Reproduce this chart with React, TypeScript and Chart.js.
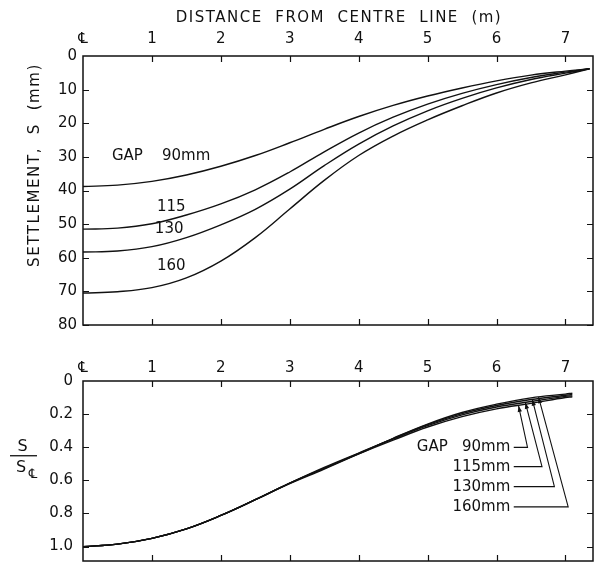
import React, { useEffect, useRef } from "react";
import { Chart, registerables } from "chart.js";

Chart.register(...registerables);

const FONT = "'DejaVu Sans', 'Liberation Sans', sans-serif";
const INK = "#111111";

// ---- Upper panel: settlement S (mm) against distance from centre line (m)
const distance = [0, 0.5, 1, 1.5, 2, 2.5, 3, 3.5, 4, 4.5, 5, 5.5, 6, 6.5, 7, 7.35];
const settlementGap90 = [38.8, 38.4, 37.3, 35.4, 32.8, 29.6, 25.8, 21.8, 18.0, 14.7, 11.9, 9.5, 7.4, 5.7, 4.5, 3.8];
const settlementGap115 = [51.5, 51.2, 49.9, 47.3, 44.0, 39.8, 34.5, 28.5, 22.9, 18.2, 14.3, 11.1, 8.5, 6.4, 4.8, 3.8];
const settlementGap130 = [58.3, 58.0, 56.7, 54.0, 50.2, 45.6, 39.6, 32.6, 26.2, 20.8, 16.3, 12.6, 9.5, 7.0, 5.1, 3.8];
const settlementGap160 = [70.5, 70.1, 68.9, 66.0, 61.0, 54.0, 45.5, 37.0, 29.6, 23.8, 19.0, 14.8, 11.0, 8.0, 5.6, 3.8];

// ---- Lower panel: S / S(centre line)
const distanceRatio = [0, 0.5, 1, 1.5, 2, 2.5, 3, 3.5, 4, 4.5, 5, 5.5, 6, 6.5, 7, 7.1];
const ratioGap90 = [1.0, 0.985, 0.95, 0.893, 0.812, 0.717, 0.617, 0.527, 0.44, 0.357, 0.278, 0.215, 0.168, 0.135, 0.1, 0.095];
const ratioGap115 = [1.0, 0.985, 0.95, 0.893, 0.812, 0.717, 0.617, 0.522, 0.435, 0.35, 0.27, 0.205, 0.157, 0.124, 0.093, 0.088];
const ratioGap130 = [1.0, 0.985, 0.95, 0.893, 0.812, 0.717, 0.617, 0.527, 0.437, 0.348, 0.264, 0.197, 0.148, 0.112, 0.086, 0.081];
const ratioGap160 = [1.0, 0.985, 0.95, 0.893, 0.812, 0.717, 0.62, 0.532, 0.44, 0.346, 0.26, 0.19, 0.14, 0.102, 0.079, 0.074];

const gapLabels = ["90 mm", "115 mm", "130 mm", "160 mm"];
const distanceTickLabels = ["\u2104", "1", "2", "3", "4", "5", "6", "7"];
const ratioTickLabels = ["0", "0.2", "0.4", "0.6", "0.8", "1.0"];

const xTitle = "DISTANCE  FROM  CENTRE  LINE  (m)";
const yTitleTop = "SETTLEMENT,  S  (mm)";

// annotation text anchored in data units
const topNotes = [
  { text: "GAP    90mm", x: 0.42, y: 29.7, align: "left" },
  { text: "115", x: 1.28, y: 44.8, align: "center" },
  { text: "130", x: 1.25, y: 51.5, align: "center" },
  { text: "160", x: 1.28, y: 62.5, align: "center" },
];
const ratioNotes = [
  { text: "GAP   90mm", textY: 0.401, cornerX: 6.45, tipX: 6.32, tipY: 0.15 },
  { text: "115mm", textY: 0.517, cornerX: 6.66, tipX: 6.42, tipY: 0.132 },
  { text: "130mm", textY: 0.638, cornerX: 6.84, tipX: 6.52, tipY: 0.113 },
  { text: "160mm", textY: 0.76, cornerX: 7.04, tipX: 6.61, tipY: 0.098 },
];
const ratioNoteTextRight = 6.2;
const ratioNoteLineStart = 6.25;

function makeDatasets(xs: number[], series: number[][]) {
  return series.map((ys, i) => ({
    label: gapLabels[i],
    data: xs.map((x, j) => ({ x, y: ys[j] })),
    borderColor: INK,
    borderWidth: 1.4,
    pointRadius: 0,
    fill: false,
    tension: 0.4,
  }));
}

function drawFrame(chart: any) {
  const { ctx, chartArea } = chart;
  const { left, right, top, bottom } = chartArea;
  const xs = chart.scales.x;
  const ys = chart.scales.y;
  ctx.save();
  ctx.strokeStyle = INK;
  ctx.lineWidth = 1.5;
  ctx.strokeRect(left, top, right - left, bottom - top);
  ctx.lineWidth = 1.2;
  const len = 6;
  ctx.beginPath();
  xs.ticks.forEach((t: any) => {
    if (t.value <= 0) return;
    const px = Math.round(xs.getPixelForValue(t.value)) + 0.5;
    ctx.moveTo(px, top);
    ctx.lineTo(px, top + len);
    ctx.moveTo(px, bottom);
    ctx.lineTo(px, bottom - len);
  });
  ys.ticks.forEach((t: any) => {
    if (t.value <= 0) return;
    const py = Math.round(ys.getPixelForValue(t.value)) + 0.5;
    ctx.moveTo(left, py);
    ctx.lineTo(left + len, py);
    ctx.moveTo(right, py);
    ctx.lineTo(right - len, py);
  });
  ctx.stroke();
  ctx.restore();
}

function spacedText(ctx: any, text: string, x: number, y: number, spacing: string) {
  ctx.letterSpacing = spacing;
  ctx.fillText(text, x, y);
  ctx.letterSpacing = "0px";
}

const topPlugin = {
  id: "topDecor",
  afterDraw(chart: any) {
    drawFrame(chart);
    const { ctx, chartArea } = chart;
    const xs = chart.scales.x;
    const ys = chart.scales.y;
    ctx.save();
    ctx.fillStyle = INK;
    ctx.font = `15px ${FONT}`;
    ctx.textBaseline = "middle";
    ctx.textAlign = "center";
    spacedText(ctx, xTitle, (chartArea.left + chartArea.right) / 2 + 1, 18.5, "1.5px");
    ctx.save();
    ctx.translate(35, 165);
    ctx.rotate(-Math.PI / 2);
    spacedText(ctx, yTitleTop, 0, 0, "1.6px");
    ctx.restore();
    ctx.font = `15px ${FONT}`;
    topNotes.forEach((n) => {
      ctx.textAlign = n.align;
      ctx.fillText(n.text, xs.getPixelForValue(n.x), ys.getPixelForValue(n.y));
    });
    ctx.restore();
  },
};

const bottomPlugin = {
  id: "bottomDecor",
  afterDraw(chart: any) {
    drawFrame(chart);
    const { ctx } = chart;
    const xs = chart.scales.x;
    const ys = chart.scales.y;
    ctx.save();
    ctx.fillStyle = INK;
    ctx.strokeStyle = INK;
    // fraction axis title S / S℄
    const cy = ys.getPixelForValue(0.4);
    ctx.font = `16px ${FONT}`;
    ctx.textBaseline = "middle";
    ctx.textAlign = "center";
    ctx.fillText("S", 22.5, cy);
    ctx.lineWidth = 1.3;
    ctx.beginPath();
    ctx.moveTo(10, cy + 8.5);
    ctx.lineTo(37, cy + 8.5);
    ctx.stroke();
    ctx.fillText("S", 21, cy + 20.5);
    ctx.font = `13px ${FONT}`;
    ctx.fillText("\u2104", 33, cy + 27);

    // labelled leaders with arrows
    ctx.font = `15px ${FONT}`;
    ctx.textAlign = "right";
    ctx.lineWidth = 1.1;
    const textRight = xs.getPixelForValue(ratioNoteTextRight);
    const lineStart = xs.getPixelForValue(ratioNoteLineStart);
    ratioNotes.forEach((n) => {
      const ty = ys.getPixelForValue(n.textY);
      ctx.fillText(n.text, textRight, ty);
      const cx = xs.getPixelForValue(n.cornerX);
      const tx = xs.getPixelForValue(n.tipX);
      const tyy = ys.getPixelForValue(n.tipY);
      ctx.beginPath();
      ctx.moveTo(lineStart, ty);
      ctx.lineTo(cx, ty);
      ctx.lineTo(tx, tyy);
      ctx.stroke();
      const ang = Math.atan2(tyy - ty, tx - cx);
      const L = 6;
      const W = 2.2;
      ctx.beginPath();
      ctx.moveTo(tx, tyy);
      ctx.lineTo(tx - L * Math.cos(ang) + W * Math.sin(ang), tyy - L * Math.sin(ang) - W * Math.cos(ang));
      ctx.lineTo(tx - L * Math.cos(ang) - W * Math.sin(ang), tyy - L * Math.sin(ang) + W * Math.cos(ang));
      ctx.closePath();
      ctx.fill();
    });
    ctx.restore();
  },
};

function topConfig(): any {
  return {
    type: "line",
    data: {
      datasets: makeDatasets(distance, [settlementGap90, settlementGap115, settlementGap130, settlementGap160]),
    },
    options: {
      animation: false,
      responsive: false,
      maintainAspectRatio: false,
      layout: { padding: { left: 0, right: 10, top: 0, bottom: 10 } },
      plugins: { legend: { display: false }, tooltip: { enabled: false } },
      scales: {
        x: {
          type: "linear",
          position: "top",
          min: 0,
          max: 7.4,
          grid: { display: false, drawTicks: false },
          border: { display: false },
          ticks: {
            stepSize: 1,
            includeBounds: false,
            autoSkip: false,
            maxRotation: 0,
            padding: 8,
            color: INK,
            font: { family: FONT, size: 15 },
            callback: (v: number) => distanceTickLabels[Math.round(v)] ?? "",
          },
          afterFit: (s: any) => {
            s.height = 56;
          },
        },
        y: {
          type: "linear",
          reverse: true,
          min: 0,
          max: 80,
          grid: { display: false, drawTicks: false },
          border: { display: false },
          ticks: {
            stepSize: 10,
            includeBounds: false,
            padding: 6,
            color: INK,
            font: { family: FONT, size: 15 },
          },
          afterFit: (s: any) => {
            s.width = 83;
          },
        },
      },
    },
    plugins: [topPlugin],
  };
}

function bottomConfig(): any {
  return {
    type: "line",
    data: {
      datasets: makeDatasets(distanceRatio, [ratioGap90, ratioGap115, ratioGap130, ratioGap160]),
    },
    options: {
      animation: false,
      responsive: false,
      maintainAspectRatio: false,
      layout: { padding: { left: 0, right: 10, top: 0, bottom: 12 } },
      plugins: { legend: { display: false }, tooltip: { enabled: false } },
      scales: {
        x: {
          type: "linear",
          position: "top",
          min: 0,
          max: 7.4,
          grid: { display: false, drawTicks: false },
          border: { display: false },
          ticks: {
            stepSize: 1,
            includeBounds: false,
            autoSkip: false,
            maxRotation: 0,
            padding: 4,
            color: INK,
            font: { family: FONT, size: 15 },
            callback: (v: number) => distanceTickLabels[Math.round(v)] ?? "",
          },
          afterFit: (s: any) => {
            s.height = 41;
          },
        },
        y: {
          type: "linear",
          reverse: true,
          min: 0,
          max: 1.087,
          grid: { display: false, drawTicks: false },
          border: { display: false },
          ticks: {
            stepSize: 0.2,
            includeBounds: false,
            padding: 10,
            color: INK,
            font: { family: FONT, size: 15 },
            callback: (v: number) => ratioTickLabels[Math.round(v * 5)] ?? "",
          },
          afterFit: (s: any) => {
            s.width = 83;
          },
        },
      },
    },
    plugins: [bottomPlugin],
  };
}

export default function App() {
  const topRef = useRef<HTMLCanvasElement>(null);
  const botRef = useRef<HTMLCanvasElement>(null);
  useEffect(() => {
    const top = new Chart(topRef.current as HTMLCanvasElement, topConfig());
    const bot = new Chart(botRef.current as HTMLCanvasElement, bottomConfig());
    return () => {
      top.destroy();
      bot.destroy();
    };
  }, []);
  return (
    <div
      style={{
        position: "fixed",
        left: 0,
        top: 0,
        width: 603,
        height: 566,
        overflow: "hidden",
        background: "#ffffff",
      }}
    >
      <canvas ref={topRef} width={603} height={340} style={{ position: "absolute", left: 0, top: 0 }} />
      <canvas ref={botRef} width={603} height={240} style={{ position: "absolute", left: 0, top: 340 }} />
    </div>
  );
}
